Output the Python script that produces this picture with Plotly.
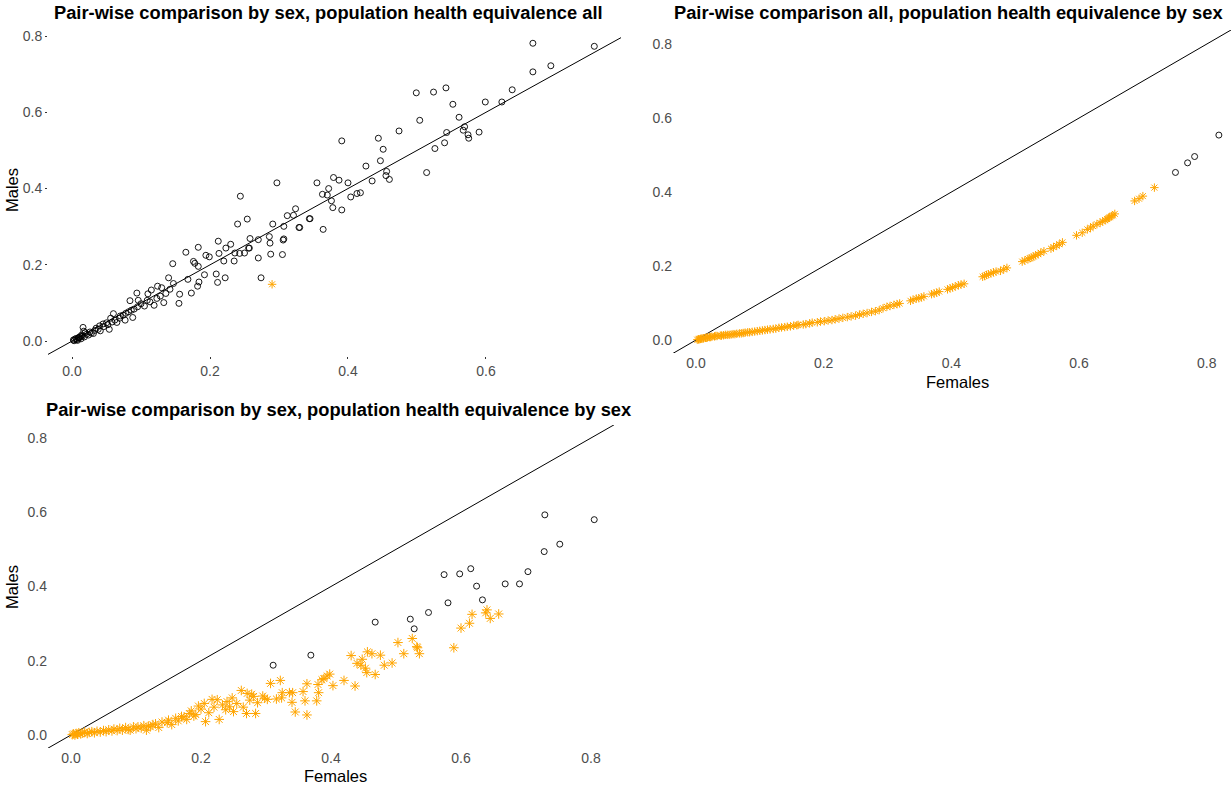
import plotly.graph_objects as go

# ---------------- Panel 1: pair-wise by sex, PHE all ----------------
p1_black_x = [0.002,0.003,0.004,0.006,0.007,0.008,0.009,0.010,0.011,0.012,0.013,0.014,0.015,0.016,0.017,0.018,0.019,
              0.021,0.024,0.026,0.028,0.031,0.033,0.035,0.038,0.040,0.041,0.045,0.046,0.050,0.052,0.054,0.056,0.058,
              0.060,0.062,0.065,0.069,0.070,0.074,0.077,0.078,0.082,0.084,0.086,0.088,0.090,0.094,0.095,0.096,0.100,
              0.105,0.109,0.110,0.113,0.115,0.119,0.123,0.124,0.128,0.130,0.133,0.136,0.140,0.142,0.146,0.147,0.155,
              0.156,0.165,0.168,0.173,0.176,0.178,0.182,0.183,0.183,0.184,0.192,0.194,0.199,0.209,0.211,0.212,0.213,
              0.220,0.222,0.223,0.230,0.235,0.236,0.240,0.243,0.244,0.250,0.254,0.256,0.257,0.258,0.270,0.270,0.274,
              0.286,0.287,0.288,0.291,0.297,0.305,0.306,0.307,0.307,0.312,0.321,0.324,0.329,0.330,0.344,0.345,0.355,
              0.363,0.364,0.370,0.372,0.376,0.378,0.379,0.387,0.391,0.391,0.400,0.404,0.413,0.418,0.426,0.435,0.444,
              0.447,0.451,0.455,0.456,0.460,0.474,0.499,0.504,0.514,0.524,0.526,0.540,0.542,0.543,0.552,0.561,0.567,
              0.569,0.574,0.575,0.590,0.599,0.623,0.638,0.668,0.668,0.694,0.757]
p1_black_y = [0.003,0.001,0.005,0.007,0.004,0.002,0.008,0.010,0.009,0.012,0.006,0.016,0.013,0.036,0.026,0.011,0.022,
              0.018,0.016,0.024,0.021,0.020,0.028,0.034,0.031,0.040,0.027,0.045,0.038,0.048,0.043,0.031,0.060,0.050,
              0.072,0.055,0.049,0.060,0.066,0.068,0.055,0.073,0.077,0.106,0.081,0.062,0.084,0.126,0.090,0.107,0.098,
              0.092,0.107,0.124,0.103,0.134,0.094,0.112,0.144,0.118,0.140,0.101,0.125,0.166,0.136,0.203,0.151,0.099,
              0.123,0.233,0.162,0.126,0.209,0.204,0.144,0.246,0.196,0.155,0.174,0.225,0.221,0.176,0.154,0.262,0.230,
              0.210,0.166,0.244,0.254,0.210,0.231,0.307,0.230,0.380,0.231,0.320,0.244,0.244,0.269,0.218,0.266,0.166,
              0.274,0.257,0.228,0.307,0.415,0.227,0.265,0.301,0.268,0.329,0.330,0.347,0.298,0.298,0.321,0.321,0.415,
              0.385,0.293,0.383,0.400,0.368,0.350,0.429,0.422,0.344,0.525,0.415,0.378,0.387,0.389,0.459,0.420,0.532,
              0.473,0.503,0.434,0.445,0.424,0.551,0.651,0.579,0.442,0.653,0.505,0.520,0.664,0.547,0.621,0.587,0.553,
              0.562,0.541,0.532,0.548,0.627,0.627,0.659,0.781,0.706,0.722,0.773]
p1_orange_x = [0.290]
p1_orange_y = [0.149]

# ---------------- Panel 2: pair-wise all, PHE by sex ----------------
p2_black_x = [0.751, 0.770, 0.781, 0.819]
p2_black_y = [0.453, 0.479, 0.496, 0.554]
p2_orange_x = [0.002,0.004,0.005,0.007,0.009,0.011,0.012,0.015,0.016,0.018,0.021,0.023,0.025,0.029,0.031,0.033,
               0.038,0.040,0.043,0.046,0.049,0.052,0.055,0.058,0.061,0.064,0.068,0.071,0.074,0.077,0.081,0.084,
               0.088,0.092,0.096,0.100,0.104,0.108,0.112,0.116,0.121,0.125,0.130,0.134,0.139,0.143,0.148,0.153,
               0.158,0.160,0.168,0.172,0.178,0.182,0.190,0.195,0.201,0.207,0.213,0.218,0.224,0.230,0.237,0.243,
               0.250,0.256,0.262,0.268,0.275,0.281,0.287,0.293,0.299,0.304,0.310,0.315,0.319,0.336,0.340,0.345,
               0.349,0.353,0.357,0.369,0.373,0.377,0.381,0.394,0.398,0.402,0.406,0.411,0.415,0.420,0.449,0.452,
               0.455,0.458,0.462,0.466,0.470,0.477,0.482,0.487,0.511,0.515,0.520,0.523,0.526,0.529,0.532,0.536,
               0.540,0.545,0.556,0.560,0.565,0.569,0.574,0.596,0.605,0.613,0.618,0.622,0.628,0.633,0.637,0.641,
               0.644,0.646,0.648,0.651,0.653,0.656,0.687,0.694,0.700,0.718]
p2_orange_y = [0.001,0.002,0.002,0.003,0.004,0.004,0.005,0.006,0.006,0.007,0.008,0.008,0.009,0.010,0.011,0.011,
               0.012,0.012,0.013,0.014,0.014,0.014,0.015,0.016,0.016,0.017,0.018,0.018,0.019,0.020,0.021,0.021,
               0.022,0.023,0.024,0.025,0.026,0.027,0.028,0.029,0.030,0.031,0.033,0.034,0.035,0.036,0.037,0.039,
               0.040,0.041,0.042,0.043,0.045,0.047,0.048,0.050,0.051,0.053,0.054,0.056,0.058,0.060,0.062,0.064,
               0.066,0.069,0.071,0.073,0.076,0.078,0.081,0.086,0.090,0.092,0.095,0.097,0.099,0.106,0.109,0.112,
               0.113,0.115,0.118,0.124,0.126,0.128,0.131,0.137,0.140,0.142,0.145,0.148,0.150,0.152,0.171,0.173,
               0.176,0.178,0.180,0.183,0.185,0.187,0.191,0.195,0.212,0.215,0.219,0.221,0.223,0.226,0.229,0.232,
               0.236,0.240,0.247,0.251,0.255,0.259,0.264,0.283,0.290,0.299,0.303,0.308,0.313,0.317,0.321,0.324,
               0.327,0.330,0.332,0.335,0.337,0.341,0.376,0.382,0.389,0.412]

# ---------------- Panel 3: pair-wise by sex, PHE by sex ----------------
p3_black_x = [0.311,0.369,0.468,0.522,0.528,0.550,0.574,0.580,0.598,0.615,0.624,0.633,0.668,0.690,0.703,0.728,0.729,0.752,0.805]
p3_black_y = [0.188,0.215,0.304,0.312,0.286,0.330,0.432,0.356,0.434,0.448,0.401,0.364,0.407,0.407,0.440,0.494,0.593,0.514,0.580]
p3_orange_x = [0.002,0.004,0.006,0.008,0.010,0.012,0.015,0.018,0.021,0.025,0.028,0.032,0.036,0.040,0.045,0.050,
               0.054,0.058,0.063,0.066,0.071,0.075,0.079,0.084,0.088,0.091,0.096,0.100,0.103,0.108,0.112,0.116,
               0.119,0.122,0.126,0.130,0.135,0.140,0.148,0.150,0.155,0.161,0.165,0.170,0.174,0.178,0.182,0.185,
               0.189,0.192,0.196,0.200,0.205,0.207,0.212,0.217,0.220,0.225,0.228,0.233,0.238,0.240,0.244,0.248,
               0.250,0.255,0.262,0.265,0.270,0.271,0.275,0.278,0.281,0.284,0.287,0.295,0.298,0.302,0.307,0.316,
               0.322,0.324,0.325,0.336,0.340,0.341,0.345,0.357,0.360,0.363,0.363,0.378,0.380,0.381,0.386,0.389,
               0.394,0.398,0.403,0.420,0.431,0.437,0.440,0.446,0.448,0.453,0.455,0.456,0.463,0.468,0.476,0.482,
               0.494,0.503,0.512,0.525,0.532,0.533,0.536,0.589,0.600,0.613,0.617,0.638,0.640,0.645,0.658]
p3_orange_y = [0.001,0.003,0.000,0.004,0.002,0.006,0.003,0.005,0.008,0.004,0.007,0.009,0.006,0.010,0.008,0.012,
               0.009,0.014,0.011,0.016,0.012,0.018,0.013,0.020,0.015,0.013,0.022,0.017,0.022,0.019,0.025,0.013,
               0.024,0.022,0.028,0.030,0.020,0.035,0.033,0.040,0.028,0.045,0.038,0.050,0.049,0.042,0.058,0.065,
               0.051,0.055,0.078,0.070,0.085,0.036,0.060,0.096,0.075,0.095,0.042,0.081,0.068,0.090,0.076,0.100,
               0.063,0.085,0.120,0.075,0.058,0.112,0.094,0.110,0.104,0.058,0.087,0.105,0.099,0.096,0.139,0.097,
               0.147,0.100,0.114,0.114,0.088,0.114,0.062,0.117,0.092,0.138,0.054,0.092,0.136,0.114,0.149,0.152,
               0.159,0.164,0.133,0.147,0.214,0.132,0.193,0.188,0.204,0.180,0.168,0.224,0.219,0.163,0.215,0.188,
               0.194,0.249,0.219,0.260,0.238,0.235,0.219,0.235,0.288,0.301,0.325,0.329,0.337,0.314,0.326]

titles = ["Pair-wise comparison by sex, population health equivalence all",
          "Pair-wise comparison all, population health equivalence by sex",
          "Pair-wise comparison by sex, population health equivalence by sex"]
tick_vals = [0.0, 0.2, 0.4, 0.6, 0.8]
tick_text = ["0.0", "0.2", "0.4", "0.6", "0.8"]

W, H = 1231, 789
ORANGE = "#FFA500"

panels = [
    dict(xd=(48, 621), yd=(28, 356), xr=[-0.0348, 0.7957], yr=[-0.039, 0.821], ticks=True,
         bx=p1_black_x, by=p1_black_y, ox=p1_orange_x, oy=p1_orange_y, osize=7),
    dict(xd=(673, 1231), yd=(30, 353), xr=[-0.036, 0.838], yr=[-0.035, 0.838], ticks=False,
         bx=p2_black_x, by=p2_black_y, ox=p2_orange_x, oy=p2_orange_y, osize=7),
    dict(xd=(48, 614), yd=(425, 748), xr=[-0.0354, 0.8354], yr=[-0.035, 0.835], ticks=False,
         bx=p3_black_x, by=p3_black_y, ox=p3_orange_x, oy=p3_orange_y, osize=8),
]

fig = go.Figure()
layout = dict(width=W, height=H, margin=dict(l=0, r=0, t=0, b=0),
              paper_bgcolor="white", plot_bgcolor="white", showlegend=False,
              font=dict(family="Liberation Sans, Arial, sans-serif"))
annotations = []
for i, p in enumerate(panels):
    n = "" if i == 0 else str(i + 1)
    xa, ya = "x" + n, "y" + n
    lx = [p["xr"][0], p["xr"][1]]
    fig.add_trace(go.Scatter(x=lx, y=lx, mode="lines", line=dict(color="black", width=1),
                             xaxis=xa, yaxis=ya, hoverinfo="skip"))
    fig.add_trace(go.Scatter(x=p["bx"], y=p["by"], mode="markers", xaxis=xa, yaxis=ya,
                             marker=dict(symbol="circle-open", size=6, color="black",
                                         line=dict(width=0.9, color="black"))))
    fig.add_trace(go.Scatter(x=p["ox"], y=p["oy"], mode="markers", xaxis=xa, yaxis=ya,
                             marker=dict(symbol="asterisk-open", size=p["osize"], color=ORANGE,
                                         line=dict(width=1, color=ORANGE))))
    tk = dict(ticks="outside", ticklen=2, tickcolor="#333333", tickwidth=0.6) if p["ticks"] else dict(ticks="")
    layout["xaxis" + n] = dict(domain=[p["xd"][0] / W, p["xd"][1] / W], range=p["xr"], anchor=ya,
                               tickvals=tick_vals, ticktext=tick_text, showgrid=False, zeroline=False,
                               showline=False, tickfont=dict(size=14, color="#4D4D4D"), **tk)
    layout["yaxis" + n] = dict(domain=[1 - p["yd"][1] / H, 1 - p["yd"][0] / H], range=p["yr"], anchor=xa,
                               tickvals=tick_vals, ticktext=tick_text, showgrid=False, zeroline=False,
                               showline=False, tickfont=dict(size=14, color="#4D4D4D"), **tk)

title_pos = [(328, 13), (948, 13), (339, 409)]
for t, (tx, ty) in zip(titles, title_pos):
    annotations.append(dict(text="<b>" + t + "</b>", x=tx / W, y=1 - ty / H, xref="paper", yref="paper",
                            showarrow=False, xanchor="center", yanchor="middle",
                            font=dict(size=18.3, color="black")))
for (tx, ty) in [(12, 190), (12, 587)]:
    annotations.append(dict(text="Males", x=tx / W, y=1 - ty / H, xref="paper", yref="paper",
                            showarrow=False, textangle=-90, xanchor="center", yanchor="middle",
                            font=dict(size=16.5, color="black")))
for (tx, ty) in [(957, 382), (335, 776)]:
    annotations.append(dict(text="Females", x=tx / W, y=1 - ty / H, xref="paper", yref="paper",
                            showarrow=False, xanchor="center", yanchor="middle",
                            font=dict(size=16.5, color="black")))
layout["annotations"] = annotations
fig.update_layout(**layout)
fig.write_html("out.html")
